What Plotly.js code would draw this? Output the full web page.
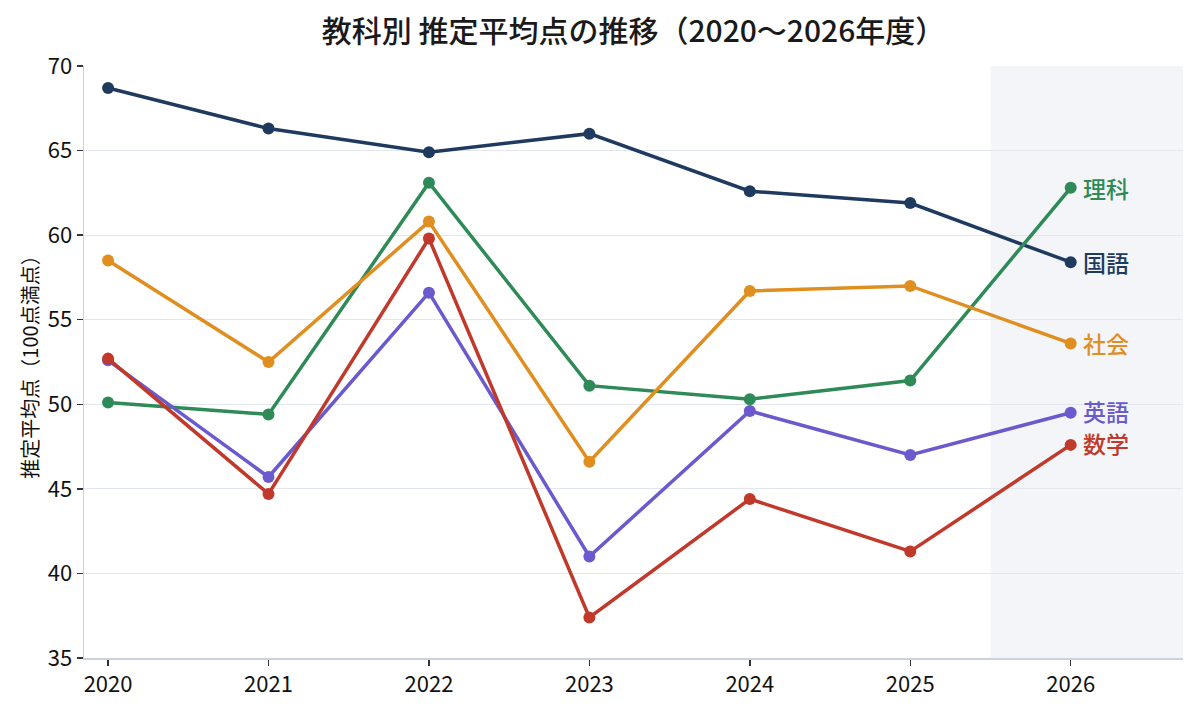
<!DOCTYPE html>
<html>
<head>
<meta charset="utf-8">
<script src="https://cdn.plot.ly/plotly-3.0.1.min.js"></script>
<style>html,body{margin:0;padding:0;background:#fff;}#chart{width:1200px;height:711px;}</style>
</head>
<body>
<div id="chart"></div>
<script>
const years = [2020, 2021, 2022, 2023, 2024, 2025, 2026];
const subjects = ["国語", "理科", "社会", "英語", "数学"];
const kokugo = [68.7, 66.3, 64.9, 66.0, 62.6, 61.9, 58.4];
const rika   = [50.1, 49.4, 63.1, 51.1, 50.3, 51.4, 62.8];
const shakai = [58.5, 52.5, 60.8, 46.6, 56.7, 57.0, 53.6];
const eigo   = [52.6, 45.7, 56.6, 41.0, 49.6, 47.0, 49.5];
const sugaku = [52.7, 44.7, 59.8, 37.4, 44.4, 41.3, 47.6];
const seriesValues = [kokugo, rika, shakai, eigo, sugaku];
const colors = ["#1f3a5f", "#2e8b57", "#e08e1f", "#6a5acd", "#c0392b"];
const labelShift = [0, 0, 0, 2, 2];

const FONT = "Noto Sans CJK JP, Noto Sans, sans-serif";

const traces = subjects.map((name, i) => ({
  type: "scatter",
  mode: "lines+markers",
  name: name,
  x: years,
  y: seriesValues[i],
  line: {color: colors[i], width: 3.5},
  marker: {color: colors[i], size: 12},
  hoverinfo: "x+y+name"
}));

const annotations = subjects.map((name, i) => ({
  x: years[years.length - 1],
  y: seriesValues[i][years.length - 1],
  xref: "x", yref: "y",
  text: name,
  showarrow: false,
  xanchor: "left",
  xshift: 10,
  yshift: labelShift[i],
  font: {family: FONT, size: 23, weight: 500, color: colors[i]}
}));

const layout = {
  width: 1200, height: 711,
  margin: {l: 84, r: 17, t: 66, b: 53},
  paper_bgcolor: "#ffffff",
  plot_bgcolor: "#ffffff",
  showlegend: false,
  font: {family: FONT, size: 21, color: "#222222"},
  title: {
    text: "教科別 推定平均点の推移（2020〜2026年度）",
    x: 0.5, xref: "paper", xanchor: "center",
    y: 0.956, yref: "container", yanchor: "middle",
    font: {family: FONT, size: 30, weight: 500, color: "#1a1a1a"}
  },
  xaxis: {
    range: [2019.85, 2026.7],
    tickvals: years,
    ticktext: years.map(String),
    ticks: "outside", ticklen: 6, tickcolor: "#333333", tickwidth: 1.5,
    showgrid: false,
    showline: true, linecolor: "#c9d3df", linewidth: 1.5,
    zeroline: false,
    tickfont: {family: FONT, size: 22, color: "#111111"}
  },
  yaxis: {
    range: [35, 70],
    dtick: 5,
    ticks: "outside", ticklen: 6, tickcolor: "#333333", tickwidth: 1.5,
    showgrid: true, gridcolor: "#e2e7ef", gridwidth: 1.2,
    showline: true, linecolor: "#c9d3df", linewidth: 1.5,
    zeroline: false,
    tickfont: {family: FONT, size: 22, color: "#111111"},
    title: {text: "推定平均点（100点満点）", font: {family: FONT, size: 20, color: "#111111"}, standoff: 3}
  },
  shapes: [{
    type: "rect", xref: "x", yref: "paper",
    x0: 2025.5, x1: 2026.7, y0: 0, y1: 1,
    fillcolor: "#f3f5f9", line: {width: 0}, layer: "below"
  }],
  annotations: annotations
};

Plotly.newPlot("chart", traces, layout, {displayModeBar: false, staticPlot: true});
</script>
</body>
</html>
